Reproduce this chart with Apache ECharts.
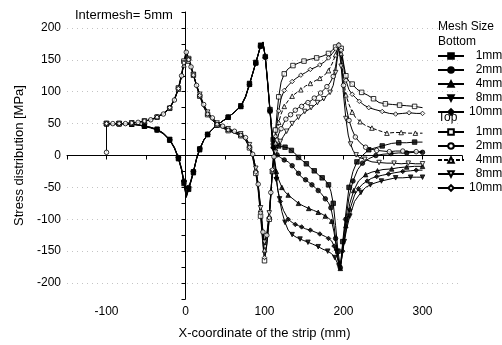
<!DOCTYPE html>
<html><head><meta charset="utf-8">
<script src="https://cdn.jsdelivr.net/npm/echarts@6/dist/echarts.min.js"></script>
<style>html,body{margin:0;padding:0;background:#fff}#c{width:502px;height:345px}</style>
</head><body><div id="c"></div>
<script>
const meshSizes = ['1mm', '2mm', '4mm', '8mm', '10mm'];
const xTickLabels = [-100, 0, 100, 200, 300];
const yTickLabels = [-200, -150, -100, -50, 0, 50, 100, 150, 200];

const bottom1mm = [[-100,50],[-92,50],[-84,50],[-76,50],[-68,49],[-60,48],[-52,46],[-44,44],[-36,41],[-28,35],[-20,25],[-14,12],[-9,-4],[-5,-22],[-2,-42],[1,-64],[4,-52],[7,-40],[10,-26],[14,-5],[18,10],[23,24],[28,33],[34,41],[40,48],[47,54],[54,60],[62,68],[70,77],[76,92],[81,112],[85,128],[89,145],[92,158],[95,172],[98,178],[101,155],[104,115],[107,72],[109,45],[111,25],[114,17],[118,15],[122,14],[126,13],[130,12],[134,8],[138,4],[143,-3],[148,-8],[153,-13],[158,-19],[163,-24],[168,-30],[173,-35],[177,-39],[181,-46],[184,-56],[187,-75],[190,-110],[193,-150],[196,-175],[199,-135],[203,-90],[207,-50],[212,-25],[217,-10],[224,0],[232,9],[240,12],[249,15],[261,19],[270,20],[280,20],[290,21],[300,21]];
const bottom2mm = [[-100,50],[-92,50],[-84,50],[-76,50],[-68,49],[-60,48],[-52,46],[-44,44],[-36,40],[-28,34],[-20,24],[-14,12],[-9,-3],[-5,-20],[-2,-40],[1,-60],[4,-50],[7,-38],[10,-25],[14,-5],[18,10],[23,24],[28,33],[34,41],[40,48],[47,54],[54,60],[62,68],[70,77],[76,91],[81,111],[85,128],[89,145],[92,158],[95,171],[98,177],[101,154],[104,114],[107,70],[109,42],[111,18],[113,8],[116,1],[120,-3],[125,-7],[130,-10],[135,-16],[139,-22],[143,-28],[147,-34],[152,-38],[156,-42],[160,-46],[164,-50],[168,-55],[172,-60],[177,-68],[181,-74],[184,-82],[187,-100],[190,-130],[193,-160],[196,-176],[199,-140],[203,-100],[207,-65],[212,-40],[218,-22],[224,-12],[232,-5],[241,0],[250,2],[260,3],[270,4],[280,4],[290,5],[300,5]];
const bottom4mm = [[-100,50],[-92,50],[-84,50],[-76,50],[-68,49],[-60,48],[-52,46],[-44,43],[-36,40],[-28,34],[-20,24],[-14,11],[-9,-5],[-5,-23],[-2,-44],[1,-66],[4,-53],[7,-41],[10,-27],[14,-6],[18,9],[23,23],[28,33],[34,41],[40,48],[47,54],[54,60],[62,68],[70,77],[76,92],[81,112],[85,129],[89,146],[92,159],[95,172],[98,178],[101,156],[104,116],[107,70],[109,40],[111,15],[113,-8],[115,-25],[118,-38],[122,-50],[126,-57],[130,-62],[136,-68],[143,-75],[149,-79],[156,-83],[162,-86],[168,-89],[173,-92],[177,-95],[181,-98],[185,-103],[188,-120],[191,-145],[194,-168],[196,-177],[199,-145],[203,-110],[208,-75],[213,-55],[219,-40],[228,-30],[236,-26],[243,-24],[250,-22],[261,-21],[270,-19],[280,-18],[290,-17],[300,-17]];
const bottom8mm = [[-100,50],[-92,50],[-84,50],[-76,50],[-68,49],[-60,48],[-52,46],[-44,44],[-36,41],[-28,35],[-20,25],[-14,12],[-9,-4],[-5,-22],[-2,-43],[1,-65],[4,-52],[7,-40],[10,-26],[14,-5],[18,10],[23,24],[28,33],[34,41],[40,48],[47,54],[54,60],[62,68],[70,78],[76,93],[81,113],[85,129],[89,146],[92,159],[95,173],[98,178],[101,153],[104,112],[107,68],[109,36],[111,10],[113,-15],[115,-38],[117,-55],[119,-68],[122,-88],[126,-105],[130,-117],[135,-124],[140,-128],[145,-131],[149,-133],[155,-136],[161,-139],[168,-143],[174,-147],[180,-150],[185,-154],[189,-160],[192,-168],[195,-176],[198,-160],[201,-135],[204,-115],[208,-95],[214,-72],[222,-58],[228,-50],[234,-46],[240,-43],[248,-40],[255,-38],[266,-35],[275,-35],[285,-34],[292,-34],[300,-34]];
const bottom10mm = [[-100,50],[-92,50],[-84,50],[-76,50],[-68,49],[-60,48],[-52,46],[-44,44],[-36,41],[-28,35],[-20,25],[-14,13],[-9,-3],[-5,-21],[-2,-41],[1,-62],[4,-51],[7,-39],[10,-25],[14,-4],[18,11],[23,24],[28,33],[34,41],[40,48],[47,54],[54,60],[62,68],[70,77],[76,92],[81,112],[85,128],[89,145],[92,158],[95,172],[98,178],[101,154],[104,113],[107,69],[109,38],[111,12],[113,-12],[115,-35],[117,-55],[120,-72],[124,-86],[130,-100],[135,-105],[139,-108],[143,-110],[147,-112],[152,-115],[158,-117],[164,-120],[170,-123],[177,-127],[181,-130],[185,-134],[188,-142],[191,-155],[194,-170],[196,-178],[199,-150],[203,-118],[208,-85],[214,-62],[219,-52],[224,-45],[230,-40],[235,-36],[242,-33],[249,-31],[257,-29],[265,-27],[275,-25],[285,-24],[292,-23],[300,-23]];

const top1mm = [[-100,50],[-92,50],[-84,50],[-76,50],[-68,51],[-60,52],[-52,54],[-44,56],[-36,60],[-28,65],[-20,74],[-14,88],[-9,106],[-5,128],[-2,148],[1,165],[4,152],[7,140],[10,127],[14,108],[18,93],[23,76],[28,64],[34,55],[40,48],[47,43],[54,39],[62,35],[70,31],[76,24],[81,12],[85,-3],[89,-28],[92,-55],[95,-95],[98,-140],[100,-165],[103,-140],[106,-100],[108,-65],[110,-25],[112,10],[114,40],[116,68],[118,92],[121,115],[125,128],[130,136],[136,141],[143,145],[150,148],[158,151],[166,153],[174,156],[181,160],[186,165],[190,170],[194,177],[197,168],[200,145],[203,125],[207,116],[211,112],[217,104],[223,99],[230,95],[238,89],[245,83],[253,81],[262,80],[271,79],[280,78],[290,77],[300,75]];
const top2mm = [[-100,5],[-100,50],[-92,50],[-84,50],[-76,50],[-68,51],[-60,52],[-52,54],[-44,56],[-36,60],[-28,65],[-20,74],[-14,87],[-9,104],[-5,125],[-2,146],[1,162],[4,151],[7,139],[10,127],[14,110],[18,96],[23,80],[28,68],[34,59],[40,52],[47,46],[54,42],[62,38],[70,34],[76,28],[81,17],[85,2],[89,-20],[92,-45],[95,-80],[98,-120],[100,-140],[103,-125],[106,-92],[108,-58],[110,-24],[112,-2],[114,12],[116,24],[118,34],[121,42],[124,50],[127,57],[130,60],[133,64],[136,67],[139,71],[143,75],[147,77],[151,82],[155,83],[159,86],[163,90],[167,93],[171,98],[175,103],[179,108],[183,114],[187,124],[190,140],[194,173],[197,150],[200,110],[203,78],[207,55],[211,40],[215,29],[221,20],[228,13],[235,10],[242,8],[250,7],[258,6],[266,7],[275,7],[284,6],[292,6],[300,6]];
const top4mm = [[-100,50],[-92,50],[-84,50],[-76,50],[-68,51],[-60,52],[-52,54],[-44,57],[-36,61],[-28,66],[-20,75],[-14,88],[-9,104],[-5,124],[-2,142],[1,156],[4,148],[7,138],[10,126],[14,110],[18,95],[23,78],[28,66],[34,57],[40,50],[47,45],[54,41],[62,37],[70,33],[76,27],[81,16],[85,1],[89,-22],[92,-48],[95,-85],[98,-125],[100,-148],[103,-130],[106,-95],[108,-60],[110,-25],[112,0],[114,20],[116,38],[118,52],[121,65],[125,77],[130,86],[135,93],[140,98],[146,103],[152,109],[158,113],[164,117],[170,121],[176,126],[181,133],[186,145],[190,158],[194,175],[197,160],[200,120],[203,95],[207,80],[211,68],[215,60],[221,53],[228,47],[236,43],[245,39],[255,35],[264,36],[273,36],[282,35],[291,35],[300,35]];
const top8mm = [[-100,50],[-92,50],[-84,50],[-76,50],[-68,51],[-60,52],[-52,54],[-44,56],[-36,60],[-28,65],[-20,74],[-14,87],[-9,104],[-5,124],[-2,145],[1,160],[4,150],[7,138],[10,127],[14,111],[18,96],[23,80],[28,68],[34,58],[40,51],[47,46],[54,42],[62,38],[70,34],[76,28],[81,17],[85,2],[89,-20],[92,-46],[95,-82],[98,-118],[100,-136],[103,-122],[106,-90],[108,-58],[110,-25],[112,-5],[114,5],[117,14],[120,22],[124,30],[128,38],[132,44],[135,50],[139,55],[143,60],[147,64],[151,69],[155,71],[159,75],[163,78],[167,83],[171,86],[175,89],[179,94],[183,99],[187,110],[190,130],[194,172],[197,140],[200,95],[203,58],[206,32],[209,18],[212,8],[216,1],[220,-3],[227,-6],[236,-10],[245,-11],[255,-12],[264,-12],[273,-13],[282,-12],[291,-13],[300,-13]];
const top10mm = [[-100,50],[-92,50],[-84,50],[-76,50],[-68,51],[-60,52],[-52,54],[-44,56],[-36,60],[-28,66],[-20,75],[-14,89],[-9,105],[-5,126],[-2,145],[1,160],[4,150],[7,139],[10,126],[14,109],[18,94],[23,77],[28,65],[34,56],[40,49],[47,44],[54,40],[62,36],[70,32],[76,25],[81,13],[85,-2],[89,-26],[92,-52],[95,-90],[98,-135],[100,-160],[103,-138],[106,-98],[108,-62],[110,-22],[112,8],[114,30],[116,52],[118,70],[121,90],[125,102],[130,110],[135,116],[140,121],[146,126],[152,130],[158,135],[164,138],[170,142],[176,147],[181,153],[186,160],[190,167],[194,176],[197,165],[200,140],[203,118],[207,103],[211,96],[215,91],[220,85],[226,79],[232,75],[240,72],[249,69],[258,66],[266,65],[275,66],[283,67],[292,66],[300,66]];

const FONT = '"Liberation Sans", Arial, Helvetica, sans-serif';
const groups = [
  { label: 'Bottom', data: [bottom1mm, bottom2mm, bottom4mm, bottom8mm, bottom10mm], fill: '#000', legendTop0: 50 },
  { label: 'Top', data: [top1mm, top2mm, top4mm, top8mm, top10mm], fill: '#fff', legendTop0: 126 }
];
const symbols = [['rect', 0], ['circle', 0], ['triangle', 0], ['triangle', 180], ['diamond', 0]];

const series = [];
const legends = [];
groups.forEach(g => {
  g.data.forEach((d, i) => {
    const name = g.label + ' ' + meshSizes[i];
    const dashed = g.label === 'Top' && meshSizes[i] === '4mm';
    const itemStyle = { color: g.fill, borderColor: '#000', borderWidth: 1 };
    series.push({
      type: 'line', name, data: d, showSymbol: false,
      symbol: symbols[i][0], symbolRotate: symbols[i][1], symbolSize: 5,
      lineStyle: { color: '#000', width: 1, type: dashed ? [4, 2] : 'solid' },
      itemStyle, z: 2, silent: true
    });
    series.push({
      type: 'scatter', name: name + ' marks', data: d.filter((p, k) => k % 2 === 0),
      symbol: symbols[i][0], symbolRotate: symbols[i][1], symbolSize: 4.5,
      itemStyle, z: 3, silent: true
    });
    legends.push({
      data: [name], left: 437, top: g.legendTop0 + i * 14, orient: 'vertical',
      itemWidth: 26, itemHeight: 7, padding: 0, itemGap: 0, selectedMode: false,
      formatter: n => { const s = n.split(' ')[1]; return s.length < 4 ? '  ' + s : s; },
      textStyle: { fontSize: 12, color: '#000', fontFamily: FONT }
    });
  });
});

const chart = echarts.init(document.getElementById('c'), null, { renderer: 'canvas' });
chart.setOption({
  animation: false,
  backgroundColor: '#fff',
  textStyle: { fontFamily: FONT },
  grid: { left: 67, right: 40, top: 12, bottom: 45 },
  legend: legends,
  graphic: [
    { type: 'text', left: 75, top: 9, style: { text: 'Intermesh= 5mm', font: '13px ' + FONT, fill: '#000' } },
    { type: 'text', left: 438, top: 21, style: { text: 'Mesh Size', font: '12px ' + FONT, fill: '#000' } },
    { type: 'text', left: 438, top: 36, style: { text: 'Bottom', font: '12px ' + FONT, fill: '#000' } },
    { type: 'text', left: 438, top: 112, style: { text: 'Top', font: '12px ' + FONT, fill: '#000' } }
  ],
  xAxis: {
    type: 'value', min: -150, max: 350, interval: 50,
    name: 'X-coordinate of the strip (mm)', nameLocation: 'middle', nameGap: 28,
    nameTextStyle: { fontSize: 13, color: '#000', fontFamily: FONT },
    axisLine: { lineStyle: { color: '#000', width: 1 } },
    axisTick: { length: 4, lineStyle: { color: '#000' } },
    axisLabel: { fontSize: 12, color: '#000', margin: 7, fontFamily: FONT,
      formatter: v => xTickLabels.includes(v) ? String(v) : '' },
    splitLine: { show: false }
  },
  yAxis: {
    type: 'value', min: -225, max: 225, interval: 25,
    name: 'Stress distribution [MPa]', nameLocation: 'middle', nameGap: 32,
    nameTextStyle: { fontSize: 13, color: '#000', fontFamily: FONT },
    axisLine: { lineStyle: { color: '#000', width: 1 } },
    axisTick: { length: 4, lineStyle: { color: '#000' } },
    axisLabel: { fontSize: 12, color: '#000', margin: 6, fontFamily: FONT,
      formatter: v => yTickLabels.includes(v) ? String(v) : '' },
    splitLine: { show: true, lineStyle: { color: ['rgba(0,0,0,0)', '#c4c4c4'], type: [1, 4], width: 1 } }
  },
  series
});
</script></body></html>
